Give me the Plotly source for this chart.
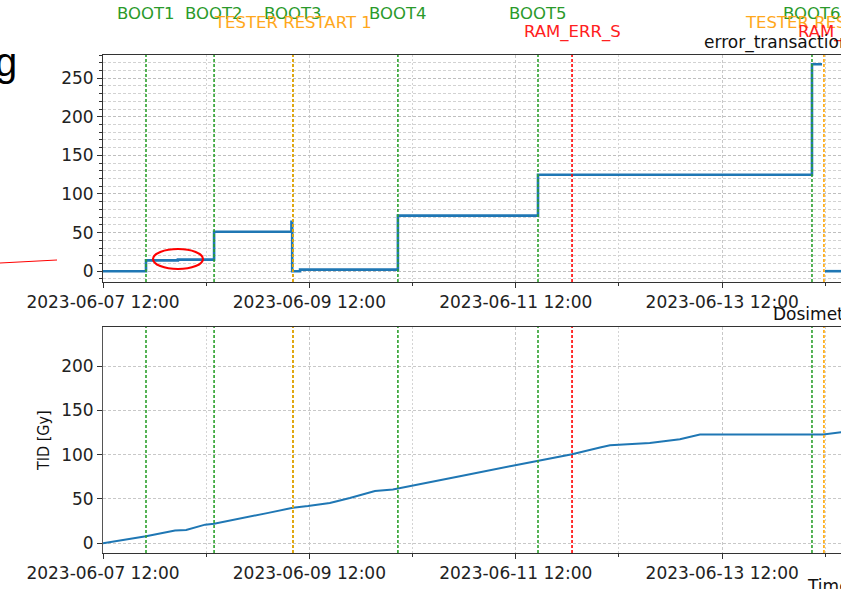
import pandas as pd
import plotly.graph_objects as go
from plotly.subplots import make_subplots

# ---------------- data ----------------
err_times = ["2023-06-07 12:00", "2023-06-07 22:00", "2023-06-08 05:25", "2023-06-08 13:50",
             "2023-06-09 07:50", "2023-06-09 08:00", "2023-06-09 09:50", "2023-06-10 08:35",
             "2023-06-11 17:10", "2023-06-14 08:53", "2023-06-14 11:13", "2023-06-14 11:14",
             "2023-06-14 11:55", "2023-06-14 16:00"]
err_values = [0, 14, 15, 51, 64, 0, 2, 72, 125, 268, 268, None, 0, 0]

tid_times = ["2023-06-07 12:00", "2023-06-07 22:00", "2023-06-08 04:45", "2023-06-08 07:20",
             "2023-06-08 11:45", "2023-06-08 13:50", "2023-06-09 02:10", "2023-06-09 08:10",
             "2023-06-09 11:40", "2023-06-09 16:45", "2023-06-09 21:25", "2023-06-10 03:15",
             "2023-06-10 07:25", "2023-06-10 15:20", "2023-06-10 23:00", "2023-06-11 10:40",
             "2023-06-11 17:10", "2023-06-12 01:05", "2023-06-12 07:35", "2023-06-12 09:55",
             "2023-06-12 19:10", "2023-06-13 02:10", "2023-06-13 06:50", "2023-06-14 11:30",
             "2023-06-14 15:40"]
tid_values = [0, 8, 14.5, 15, 21, 22, 34, 40, 42, 45.5, 51, 59, 60.6, 68, 75.6, 87, 93,
              100.5, 108, 110.6, 113.2, 117.4, 122.7, 122.7, 125.3]

event_names = ["BOOT1", "BOOT2", "BOOT3", "TESTER RESTART 1", "BOOT4", "BOOT5",
               "RAM_ERR_S", "BOOT6", "TESTER RESTART 2", "RAM_ERR_S"]
event_times = ["2023-06-07 22:00", "2023-06-08 13:50", "2023-06-09 08:10", "2023-06-09 08:10",
               "2023-06-10 08:35", "2023-06-11 17:10", "2023-06-12 01:05", "2023-06-14 08:53",
               "2023-06-14 11:40", "2023-06-14 17:00"]
event_kinds = ["boot", "boot", "boot", "restart", "boot", "boot", "ram", "boot", "restart", "ram"]

major_ticks = ["2023-06-07 12:00", "2023-06-09 12:00", "2023-06-11 12:00", "2023-06-13 12:00"]
minor_ticks = ["2023-06-08 12:00", "2023-06-10 12:00", "2023-06-12 12:00", "2023-06-14 12:00"]
x_start, x_end = "2023-06-07 12:00", "2023-06-14 15:38"

# ---------------- geometry helpers ----------------
W, H = 841, 589
PL, PR, PT, PB = 103, 841, 55, 553


def pxx(x):
    return (x - PL) / (PR - PL)


def pyy(y):
    return (PB - y) / (PB - PT)


t0, t1 = pd.Timestamp(x_start), pd.Timestamp(x_end)


def tfrac(t):
    return (pd.Timestamp(t) - t0) / (t1 - t0)


kind_color = {"boot": "#2ca02c", "restart": "#ffa500", "ram": "#ff0000"}
label_color = {"boot": "#2a9a2a", "restart": "#ffa81c", "ram": "#ff2020"}
label_row = {"boot": 13, "restart": 22, "ram": 32}

top_bottom_px = 282
bot_top_px = 327

fig = make_subplots(rows=2, cols=1, shared_xaxes=False, vertical_spacing=0.09)

fig.add_trace(go.Scatter(x=err_times, y=err_values, mode="lines", line_shape="hv",
                         connectgaps=False,
                         line=dict(color="#1f77b4", width=2.6)), row=1, col=1)
fig.add_trace(go.Scatter(x=tid_times, y=tid_values, mode="lines",
                         line=dict(color="#1f77b4", width=2)), row=2, col=1)

font = "DejaVu Sans, Verdana, sans-serif"
grid_col = "#c8c8c8"
grid_dash = "3px,2px"

xcommon = dict(type="date", range=[x_start, x_end], tickmode="array", tickvals=major_ticks,
               ticktext=major_ticks, ticks="outside", ticklen=5, tickcolor="#333",
               showline=True, linecolor="#333", linewidth=1, mirror=True,
               showgrid=True, gridcolor=grid_col, griddash=grid_dash, gridwidth=1,
               tickfont=dict(family=font, size=17, color="#222"), zeroline=False,
               minor=dict(tickmode="array", tickvals=minor_ticks, ticks="outside", ticklen=3,
                          tickcolor="#333", showgrid=True, gridcolor="#d4d4d4",
                          griddash="2px,2px", gridwidth=1))
fig.update_xaxes(**xcommon, row=1, col=1)
fig.update_xaxes(**xcommon, row=2, col=1)

fig.update_yaxes(range=[-14, 280], tickvals=[0, 50, 100, 150, 200, 250], ticks="outside",
                 ticklen=5, tickcolor="#333", showline=True, linecolor="#333", linewidth=1,
                 showgrid=True, gridcolor="#bfbfbf", griddash=grid_dash, zeroline=False,
                 tickfont=dict(family=font, size=17, color="#222"),
                 minor=dict(dtick=10, tick0=0, ticks="outside", ticklen=3, tickcolor="#333",
                            showgrid=True, gridcolor="#d2d2d2", griddash=grid_dash),
                 row=1, col=1)
fig.update_yaxes(range=[-11, 244], tickvals=[0, 50, 100, 150, 200], ticks="outside",
                 ticklen=5, tickcolor="#333", showline=True, linecolor="#555", linewidth=1,
                 showgrid=True, gridcolor=grid_col, griddash=grid_dash, zeroline=False,
                 tickfont=dict(family=font, size=17, color="#222"),
                 row=2, col=1)

fig.update_layout(
    width=W, height=H, margin=dict(l=PL, r=W - PR, t=PT, b=H - PB),
    paper_bgcolor="white", plot_bgcolor="white", showlegend=False,
    yaxis=dict(domain=[pyy(top_bottom_px), 1.0]),
    yaxis2=dict(domain=[0.0, pyy(bot_top_px)]),
)

shapes = []
annotations = []
for name, t, kind in zip(event_names, event_times, event_kinds):
    for xr, yr in (("x", "y domain"), ("x2", "y2 domain")):
        shapes.append(dict(type="line", xref=xr, yref=yr, x0=t, x1=t, y0=0, y1=1,
                           line=dict(color=kind_color[kind], width=1.6, dash="3px,2px")))
    annotations.append(dict(text=name, xref="paper", yref="paper", x=tfrac(t),
                            y=pyy(label_row[kind]), xanchor="center", yanchor="middle",
                            showarrow=False,
                            font=dict(family=font, size=16.5, color=label_color[kind])))

# subplot titles / axis labels (partially cut at the right edge)
annotations.append(dict(text="error_transactions", xref="paper", yref="paper", x=pxx(702),
                        y=pyy(43), xanchor="left", yanchor="middle", showarrow=False,
                        font=dict(family=font, size=17, color="#111")))
annotations.append(dict(text="Dosimetry", xref="paper", yref="paper", x=pxx(771),
                        y=pyy(314), xanchor="left", yanchor="middle", showarrow=False,
                        font=dict(family=font, size=17, color="#111")))
annotations.append(dict(text="Time", xref="paper", yref="paper", x=pxx(805),
                        y=pyy(586), xanchor="left", yanchor="middle", showarrow=False,
                        font=dict(family=font, size=17, color="#111")))
annotations.append(dict(text="TID [Gy]", xref="paper", yref="paper", x=pxx(43),
                        y=pyy(441), xanchor="center", yanchor="middle", showarrow=False,
                        textangle=-90,
                        font=dict(family="Liberation Sans Narrow, DejaVu Sans Condensed, sans-serif",
                                  size=16, color="#111")))
# slide overlay fragment
annotations.append(dict(text="g", xref="paper", yref="paper", x=pxx(19), y=pyy(62),
                        xanchor="right", yanchor="middle", showarrow=False,
                        font=dict(family="Liberation Sans, Arial, sans-serif", size=40,
                                  color="#000")))

shapes.append(dict(type="line", xref="paper", yref="paper", x0=pxx(0), y0=pyy(263),
                   x1=pxx(57), y1=pyy(260), line=dict(color="#ff0000", width=1)))
shapes.append(dict(type="circle", xref="paper", yref="paper", x0=pxx(153), y0=pyy(269),
                   x1=pxx(203), y1=pyy(249), line=dict(color="#ff0000", width=2.2)))

fig.update_layout(shapes=shapes, annotations=annotations)

fig.write_html("out.html", config={"displayModeBar": False},
               post_script="document.body.style.margin='0';document.body.style.overflow='hidden';")
